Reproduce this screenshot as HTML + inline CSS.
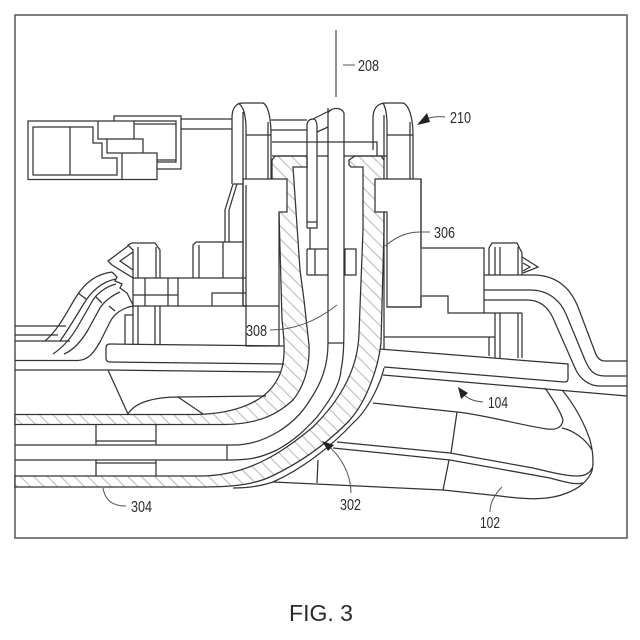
<!DOCTYPE html>
<html><head><meta charset="utf-8"><style>
html,body{margin:0;padding:0;background:#fff}
svg{display:block}
text{font-family:"Liberation Sans",sans-serif;fill:#2a2a2a;stroke:none}
</style></head><body>
<svg width="640" height="640" viewBox="0 0 640 640" xmlns="http://www.w3.org/2000/svg">
<defs>
<pattern id="h" width="9.5" height="9.5" patternUnits="userSpaceOnUse" patternTransform="rotate(-45)">
<rect width="9.5" height="9.5" fill="#fff"/><line x1="0" y1="0" x2="0" y2="9.5" stroke="#bdbdbd" stroke-width="2.2"/>
</pattern>
</defs>
<rect x="15" y="15" width="612" height="523" fill="#fff" stroke="#555" stroke-width="1.5"/>
<g fill="none" stroke="#333" stroke-width="1.25">

<!-- hatched bands -->
<path fill="url(#h)" d="M15,414.5H195C235,414 265,402 277,380C286,365 285,345 282,320L279,212L272,179V160L275,156H307V167H293L300,270L304,300L309,345C310,365 305,385 293,400C280,412 262,424 225,424.5H15Z"/>
<path fill="url(#h)" d="M15,476H200C250,476 285,450 313,427C340,400 358,370 359,333L363,230V167H351L349,165V160L355,156H381L384,160V230L381,343C378,370 365,405 347,423C325,445 300,463 270,477C250,486 225,487 200,487H15Z"/>

<!-- bent layers -->
<path d="M15,445H233C265,445 295,425 310,400C322,382 328,365 328,343V108"/>
<path d="M15,460H227C250,460 260,458 277,450C295,440 305,430 317,417C330,400 340,385 341,370C344,355 344,345 344,300V113"/>
<path d="M328,113C330,108 341,106 344,113"/>
<path d="M384,368C380,385 368,410 353,423C330,448 300,470 273,482C258,487 245,488 233,488"/>
<line x1="227" y1="445" x2="227" y2="460"/>
<line x1="328" y1="343" x2="344" y2="343"/>

<!-- bottom blocks -->
<path d="M96,424.5V445M156,424.5V445M96,441H156M96,460V476M156,460V476M96,463H156"/>

<!-- left connector box -->
<path d="M98,121H28V179.5H157V153H122V179.5M98,121V139H143V153H107V139M98,121H134V139"/>
<path d="M33,127H93V143H102V158H117V175H33ZM70,127V175"/>
<path d="M114,121V116H181V169H157M134,121H176V162H157M134,124H176M157,160H176"/>
<path d="M181,119H232M181,129H232"/>
<path d="M271,120H307M271,130H307M272,142H377V156M272,156H307M317,156H328M344,156H387"/>

<!-- hoops and blocks -->
<path d="M232,184V118C232,108 236,103 243,103H263C268,105 271,118 271,135V179"/>
<path d="M238,103C243,106 245,112 246,125V179M243,112V179M268,122V179M246,135H271"/>
<path fill="#fff" d="M243,179H287V212H279V346H246V306H243Z"/>
<path stroke="none" fill="#fff" d="M244,180H278V305H244Z"/>
<path d="M243,179V306M246,185V306"/>
<path d="M233,184L225,210V242M237,184L229,210V242M233,184H243"/>
<path d="M373,150V118C373,108 378,103 386,103H403C409,105 413,118 413,135V179"/>
<path d="M383,103C386,108 387,115 387,125V179M410,122V179M387,135H413M384,115V160"/>
<path fill="#fff" d="M375,179H421V307H387V212H375Z"/>
<path d="M384,212V349"/>

<!-- fingers -->
<path d="M307,228V125C307,121 310,119 313,119C316,119 317,122 317,128V222H307M307,228H317V222M310,228V249"/>
<path d="M313,119L331,110M317,132L328,127"/>
<path d="M307,249H328M307,275H328M307,249V275M315,249V275M344,249H356V275H344M345,249V275"/>

<!-- left mount -->
<path d="M133,278H246M193,278V245L196,242H243M199,245V278M223,242V278"/>
<path d="M133,278V250L128,245L132,243H155L160,250V278M138,247V278M156,247V278"/>
<path d="M128,246L108,261L112,265L133,278M133,252L120,261L133,270"/>
<path d="M133,306V278M145,278V306M168,278V306M178,278V306M133,295H178M133,306H279M212,306V293H246"/>
<path d="M133,306V344M138,306V344M155,306V344M160,306V344M125,344V315H133"/>

<!-- left cables -->
<path d="M45,341C58,330 65,315 76,297C84,284 95,274 112,272"/>
<path d="M60,341C68,330 75,318 83,305C90,293 100,282 116,279"/>
<path d="M53,354C62,348 70,340 78,326L93,300C98,292 108,286 116,284"/>
<path d="M64,354C74,350 82,340 88,330L100,308C105,300 115,294 120,292"/>
<path d="M78,360.5C90,360 95,350 100,342L110,322C114,314 122,308 133,306"/>
<path d="M78,293L86,299M96,297L102,303M109,306L115,311"/>
<path d="M112,272L117,277L115,281L122,284L120,288L127,293L133,305"/>
<path d="M15,326H66M15,335H58M15,341H70M15,360.5H78M15,370H108"/>

<!-- trays -->
<path d="M284,346L110,344Q106,344 106,348V358Q106,362 110,362L284,364"/>
<path d="M108,370L281,372"/>
<path d="M108,370L128,414C135,402 155,397 178,397L266,396M178,397L203,414"/>
<path d="M380,349L568,364V379Q568,382 564,382L384,367"/>
<path d="M383,375L627,396"/>

<!-- right mount -->
<path d="M421,248H484V313H448V296H421M421,179V248M387,307H421V296M484,275H535"/>
<path d="M489,275V248L492,243H517L522,253V275M495,247V275M500,247V275M518,247V275"/>
<path d="M522,257L538,267L523,273M523,263L530,267L523,271"/>
<path d="M484,313H522M495,313V358M500,313V358M518,313V358M522,313V358M384,337H495M489,337V356"/>

<!-- right cables -->
<path d="M535,275C560,276 572,292 578,307L595,352Q598,361 605,361H627"/>
<path d="M484,290H530C548,290 560,300 566,314L585,360C590,372 595,376 605,376H627"/>
<path d="M484,300H527C540,300 548,307 553,318L575,368C580,380 590,386 600,386H627"/>

<!-- sole shapes -->
<path d="M373,403L457,412C480,414 525,426 547,429C556,430 562,428 563,420C560,410 552,398 545,388"/>
<path d="M562,390C575,405 585,425 590,440C594,455 594,470 590,475C585,484 575,490 567,493C550,500 530,500 500,496L443,490L273,482"/>
<path d="M562,428C572,430 585,438 592,450"/>
<path d="M337,442L450,453L533,468C550,472 565,476 577,476C585,476 590,473 592,468"/>
<path d="M333,448L450,460L550,478C565,482 575,485 583,483"/>
<path d="M457,412L451,453M449,460L443,490M318,460L317,483"/>
</g>

<!-- vertical axis and leaders -->
<g fill="none" stroke="#555" stroke-width="1">
<line x1="336" y1="30" x2="336" y2="97" stroke-width="1.3"/>
<path d="M343,65H355"/>
<path d="M445,117C436,116 430,117 425,120"/>
<path d="M420,232C405,232 395,238 385,246M420,232H430"/>
<path d="M270,330C295,330 318,320 337,305"/>
<path d="M351,493C351,473 340,455 326,444"/>
<path d="M103,488C105,500 112,506 126,506"/>
<path d="M483,402C472,401 466,398 462,392"/>
<path d="M502,487C495,494 490,502 490,512"/>
</g>
<g fill="#222">
<path d="M417,125L427,113L430,122Z"/>
<path d="M322,441L334,445L328,451Z"/>
<path d="M458,387L468,393L461,399Z"/>
</g>

<g font-size="16">
<text x="358" y="71" textLength="21" lengthAdjust="spacingAndGlyphs">208</text>
<text x="450" y="123" textLength="21" lengthAdjust="spacingAndGlyphs">210</text>
<text x="434" y="238" textLength="21" lengthAdjust="spacingAndGlyphs">306</text>
<text x="246" y="336" textLength="21" lengthAdjust="spacingAndGlyphs">308</text>
<text x="488" y="408" textLength="20" lengthAdjust="spacingAndGlyphs">104</text>
<text x="340" y="510" textLength="21" lengthAdjust="spacingAndGlyphs">302</text>
<text x="131" y="512" textLength="21" lengthAdjust="spacingAndGlyphs">304</text>
<text x="480" y="528" textLength="20" lengthAdjust="spacingAndGlyphs">102</text>
</g>
<text x="289" y="621" font-size="23" textLength="64" lengthAdjust="spacingAndGlyphs">FIG. 3</text>
</svg>
</body></html>
